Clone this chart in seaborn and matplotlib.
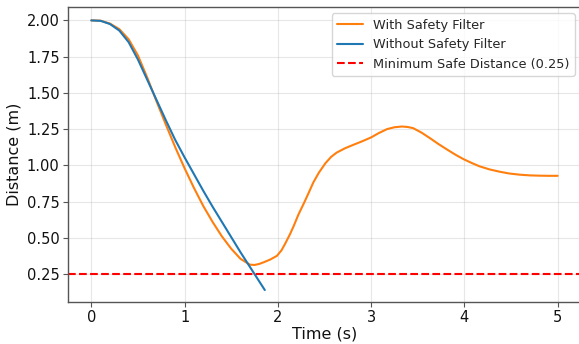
import matplotlib
matplotlib.use("Agg")
import matplotlib.pyplot as plt
import seaborn as sns
import pandas as pd

t_with = [0, 0.1, 0.2, 0.3, 0.4, 0.5, 0.6, 0.7, 0.8, 0.9, 1.0, 1.1, 1.2, 1.3, 1.4, 1.5,
          1.6, 1.7, 1.75, 1.8, 1.85, 1.92, 1.99, 2.04, 2.08, 2.13, 2.17, 2.22, 2.28, 2.33,
          2.38, 2.44, 2.51, 2.57, 2.63, 2.72, 2.81, 2.9, 3.0, 3.08, 3.17, 3.25, 3.33, 3.39,
          3.45, 3.54, 3.63, 3.72, 3.81, 3.9, 3.99, 4.08, 4.16, 4.27, 4.38, 4.48, 4.59, 4.7,
          4.8, 4.9, 5.0]
d_with = [2.0, 1.998, 1.978, 1.94, 1.87, 1.758, 1.605, 1.44, 1.28, 1.125, 0.98, 0.845, 0.72,
          0.61, 0.51, 0.425, 0.355, 0.315, 0.313, 0.32, 0.332, 0.351, 0.376, 0.415, 0.462,
          0.525, 0.582, 0.66, 0.74, 0.81, 0.882, 0.95, 1.015, 1.058, 1.088, 1.118, 1.142,
          1.165, 1.193, 1.222, 1.25, 1.263, 1.268, 1.265, 1.257, 1.226, 1.188, 1.148, 1.111,
          1.075, 1.043, 1.016, 0.994, 0.972, 0.956, 0.944, 0.936, 0.931, 0.929, 0.928, 0.928]
t_without = [0, 0.1, 0.2, 0.3, 0.4, 0.5, 0.6, 0.7, 0.8, 0.9, 1.0, 1.1, 1.2, 1.3, 1.4, 1.5,
             1.6, 1.7, 1.8, 1.86]
d_without = [2.0, 1.997, 1.975, 1.93, 1.85, 1.73, 1.59, 1.45, 1.31, 1.175, 1.055, 0.94,
             0.825, 0.715, 0.61, 0.505, 0.40, 0.30, 0.20, 0.14]
min_safe = 0.25
y_ticks = [0.25, 0.5, 0.75, 1.0, 1.25, 1.5, 1.75, 2.0]
x_ticks = [0, 1, 2, 3, 4, 5]

sns.set_style("white")
plt.rcParams['font.family'] = ['DejaVu Sans']

fig = plt.figure(figsize=(5.79, 3.44), dpi=100)
ax = fig.add_axes([68/579, 42/344, (581-68)/579, (302-7)/344])

df_w = pd.DataFrame({"t": t_with, "d": d_with})
df_wo = pd.DataFrame({"t": t_without, "d": d_without})
sns.lineplot(data=df_w, x="t", y="d", ax=ax, color="#ff7f0e", linewidth=1.5,
             label="With Safety Filter", sort=False)
sns.lineplot(data=df_wo, x="t", y="d", ax=ax, color="#1f77b4", linewidth=1.5,
             label="Without Safety Filter", sort=False)
ax.axhline(min_safe, color="red", linestyle="--", linewidth=1.5,
           label="Minimum Safe Distance (0.25)")

ax.set_xlim(-0.25, 5.25)
ax.set_ylim(0.0575, 2.0925)
ax.set_yticks(y_ticks)
ax.set_yticklabels([f"{v:.2f}" for v in y_ticks])
ax.set_xticks(x_ticks)
ax.grid(True, color="#b0b0b0", alpha=0.3, linewidth=0.8)
ax.tick_params(axis="both", labelsize=10.5, length=3.5, width=0.8, color="#555555",
               labelcolor="#111111", direction="out", bottom=True, left=True, pad=2.5)
for s in ax.spines.values():
    s.set_color("#555555")
    s.set_linewidth(1.0)
ax.set_xlabel("Time (s)", fontsize=11.5, labelpad=1, color="#111111")
ax.set_ylabel("Distance (m)", fontsize=11.5, labelpad=4, color="#111111")
ax.legend(loc="upper right", fontsize=9.3, frameon=True, framealpha=0.8,
          edgecolor="#cccccc", fancybox=True)

fig.savefig("out.png", dpi=100)
